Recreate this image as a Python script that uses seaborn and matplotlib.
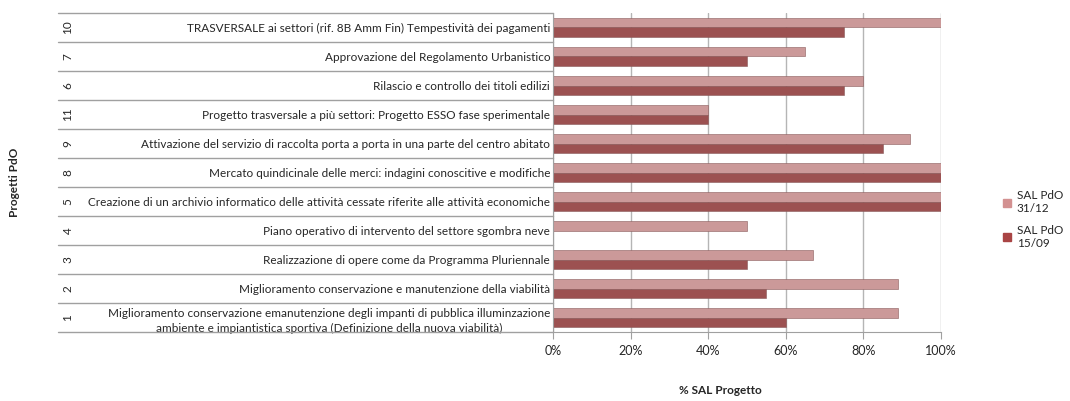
import pandas as pd
import seaborn as sns
import matplotlib.pyplot as plt
from matplotlib.ticker import PercentFormatter
from matplotlib.patches import Patch

# data (top row first)
codici = ['10', '7', '6', '11', '9', '8', '5', '4', '3', '2', '1']
progetti = [
    'TRASVERSALE ai settori (rif. 8B Amm Fin) Tempestività dei pagamenti',
    'Approvazione del Regolamento Urbanistico',
    'Rilascio e controllo dei titoli edilizi',
    'Progetto trasversale a più settori: Progetto ESSO fase sperimentale',
    'Attivazione del servizio di raccolta porta a porta in una parte del centro abitato',
    'Mercato quindicinale delle merci: indagini conoscitive e modifiche',
    'Creazione di un archivio informatico delle attività cessate riferite alle attività economiche',
    'Piano operativo di intervento del settore sgombra neve',
    'Realizzazione di opere come da Programma Pluriennale',
    'Miglioramento conservazione e manutenzione della viabilità',
    'Miglioramento conservazione emanutenzione degli impanti di pubblica illuminzazione\n'
    'ambiente e impiantistica sportiva (Definizione della nuova viabilità)',
]
sal_3112 = [100, 65, 80, 40, 92, 100, 100, 50, 67, 89, 89]
sal_1509 = [75, 50, 75, 40, 85, 100, 100, 0, 50, 55, 60]
serie = ['SAL PdO 31/12', 'SAL PdO 15/09']
colori = ['#D39191', '#A94444']

df = pd.DataFrame({
    'progetto': progetti * 2,
    'sal': sal_3112 + sal_1509,
    'serie': [serie[0]] * len(progetti) + [serie[1]] * len(progetti),
})

sns.set_style('white')
plt.rcParams['font.family'] = ['Lato', 'DejaVu Sans']

fig = plt.figure(figsize=(10.7, 4.01), dpi=100)
ax = fig.add_axes([0.5168, 0.172, 0.3626, 0.7956])

sns.barplot(data=df, y='progetto', x='sal', hue='serie', order=progetti,
            hue_order=serie, palette=colori, orient='h', width=0.66,
            edgecolor='#8A5A5A', linewidth=0.4, ax=ax, legend=False)

ax.set_xlim(0, 100)
ax.set_ylim(len(progetti) - 0.5, -0.5)
ax.set_xticks([0, 20, 40, 60, 80, 100])
ax.xaxis.set_major_formatter(PercentFormatter(decimals=0))
ax.grid(axis='x', color='#B5B5B5', lw=1)
ax.set_axisbelow(True)
ax.set_xlabel('')
ax.set_ylabel('')
for s in ['top', 'right']:
    ax.spines[s].set_visible(False)
for s in ['left', 'bottom']:
    ax.spines[s].set_color('#A0A0A0')
ax.tick_params(axis='x', length=5, color='#A0A0A0', labelsize=9, pad=4, direction='out', bottom=True)
ax.tick_params(axis='y', length=0, labelsize=8.5, pad=2)
for t in ax.get_yticklabels():
    t.set_multialignment('center')
    t.set_linespacing(1.45)

# numeri dei progetti e righe della tabella a sinistra
trans = ax.get_yaxis_transform()
for i, c in enumerate(codici):
    ax.text(-1.25, i, c, transform=trans, rotation=90, ha='center', va='center',
            fontsize=8.5, clip_on=False)
for i in range(len(progetti) + 1):
    ax.plot([-1.277, 0], [i - 0.5, i - 0.5], transform=trans, color='#A0A0A0',
            lw=1, clip_on=False)

fig.text(0.014, 0.545, 'Progetti PdO', rotation=90, ha='center', va='center',
         fontsize=8.5, fontweight='bold')
fig.text(0.673, 0.025, '% SAL Progetto', ha='center', va='center',
         fontsize=8.5, fontweight='bold')

handles = [Patch(color=colori[0], label='SAL PdO\n31/12'),
           Patch(color=colori[1], label='SAL PdO\n15/09')]
fig.legend(handles=handles, loc='upper left', bbox_to_anchor=(0.937, 0.525),
           frameon=False, fontsize=8.5, handlelength=0.7, handleheight=0.7,
           handletextpad=0.5, labelspacing=0.9, borderpad=0, borderaxespad=0)

fig.savefig('out.png', dpi=100)
